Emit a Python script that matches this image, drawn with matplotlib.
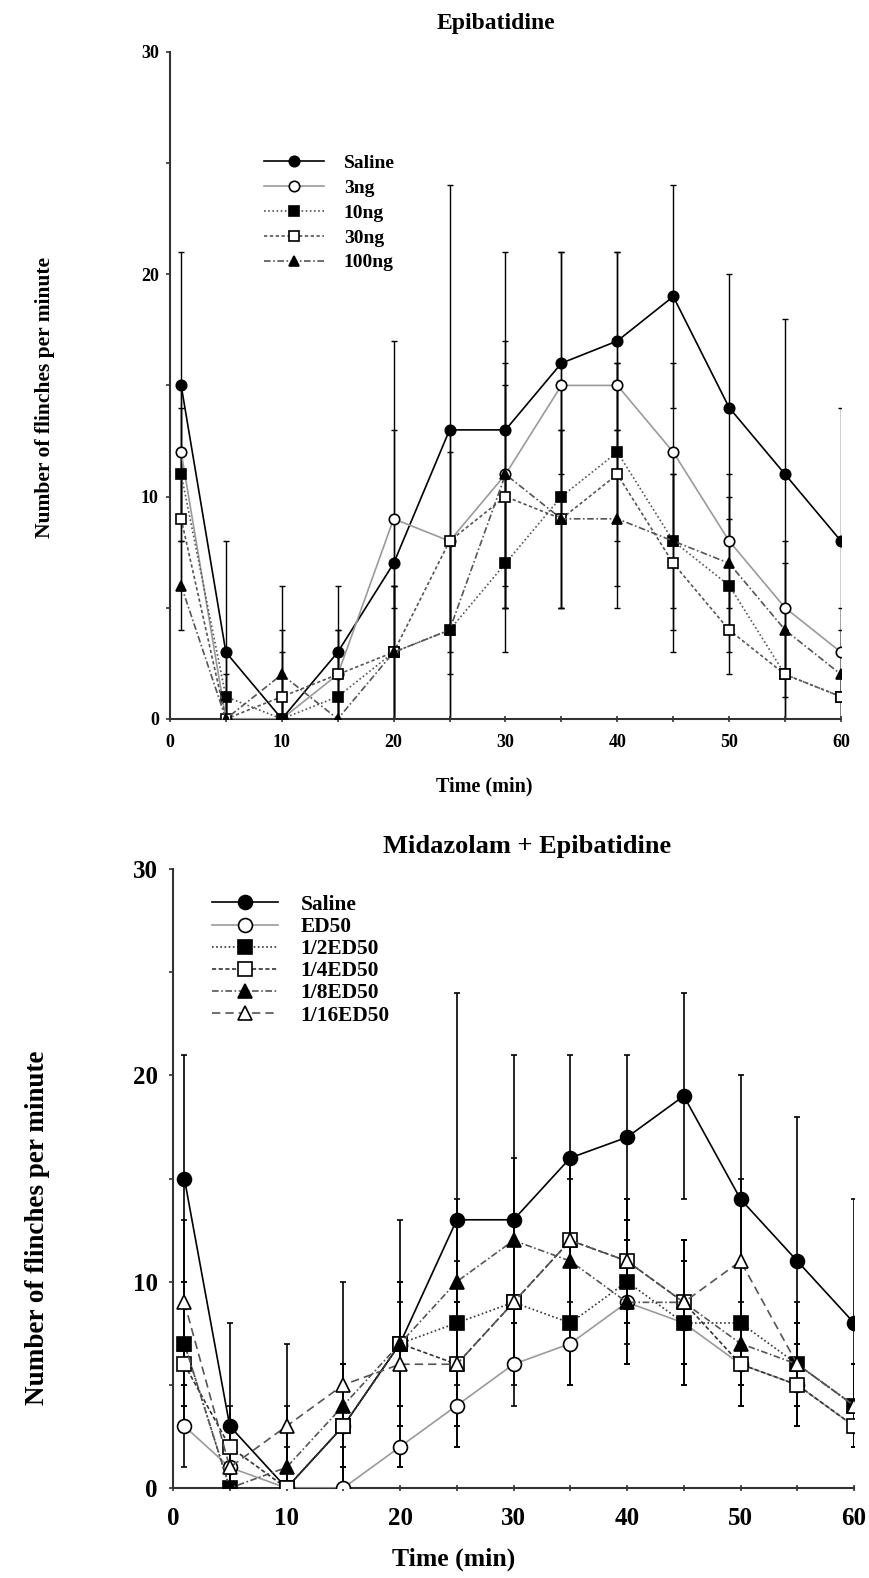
import matplotlib
matplotlib.use('Agg')
import matplotlib.pyplot as plt
from matplotlib.ticker import MultipleLocator

plt.rcParams['font.family'] = ['Liberation Serif', 'DejaVu Serif']
plt.rcParams['font.weight'] = 'bold'

# Time points (min)
times = [1, 5, 10, 15, 20, 25, 30, 35, 40, 45, 50, 55, 60]

# Top panel: Epibatidine
top_labels = ['Saline', '3ng', '10ng', '30ng', '100ng']
saline_top = [15, 3, 0, 3, 7, 13, 13, 16, 17, 19, 14, 11, 8]
saline_top_err = [6, 5, 6, 3, 10, 11, 8, 5, 4, 5, 6, 7, 6]
ng3 = [12, 0, 0, 2, 9, 8, 11, 15, 15, 12, 8, 5, 3]
ng3_err = [3, 2, 2, 2, 4, 5, 6, 6, 6, 4, 3, 3, 2]
ng10 = [11, 1, 0, 1, 3, 4, 7, 10, 12, 8, 6, 2, 1]
ng10_err = [3, 2, 1, 2, 3, 4, 4, 5, 4, 4, 3, 2, 1]
ng30 = [9, 0, 1, 2, 3, 8, 10, 9, 11, 7, 4, 2, 1]
ng30_err = [3, 1, 2, 2, 3, 4, 5, 4, 5, 4, 2, 2, 1]
ng100 = [6, 0, 2, 0, 3, 4, 11, 9, 9, 8, 7, 4, 2]
ng100_err = [2, 1, 2, 1, 3, 4, 5, 4, 4, 3, 3, 3, 2]

# Bottom panel: Midazolam + Epibatidine
bot_labels = ['Saline', 'ED50', '1/2ED50', '1/4ED50', '1/8ED50', '1/16ED50']
saline_bot = [15, 3, 0, 3, 7, 13, 13, 16, 17, 19, 14, 11, 8]
saline_bot_err = [6, 5, 4, 3, 6, 11, 8, 5, 4, 5, 6, 7, 6]
ed50 = [3, 1, 0, 0, 2, 4, 6, 7, 9, 8, 6, 5, 3]
ed50_err = [2, 1, 1, 1, 1, 2, 2, 2, 3, 3, 2, 2, 1]
half = [7, 0, 0, 3, 7, 8, 9, 8, 10, 8, 8, 6, 4]
half_err = [3, 1, 1, 2, 3, 3, 3, 3, 3, 3, 3, 2, 2]
quarter = [6, 2, 0, 3, 7, 6, 9, 12, 11, 9, 6, 5, 3]
quarter_err = [3, 2, 1, 2, 3, 3, 3, 4, 3, 3, 2, 2, 1]
eighth = [7, 0, 1, 4, 7, 10, 12, 11, 9, 9, 7, 6, 4]
eighth_err = [3, 1, 1, 2, 3, 4, 4, 4, 3, 3, 2, 2, 2]
sixteenth = [9, 1, 3, 5, 6, 6, 9, 12, 11, 9, 11, 6, 4]
sixteenth_err = [4, 1, 4, 5, 3, 3, 3, 4, 3, 3, 4, 3, 2]

# styles: (marker, filled, linestyle, color)
top_styles = [('o', True, '-', 'black'),
              ('o', False, '-', '#9a9a9a'),
              ('s', True, (0, (1, 1.5)), '#555555'),
              ('s', False, (0, (2, 1.5)), '#555555'),
              ('^', True, (0, (4, 1.5, 1, 1.5)), '#555555')]
bot_styles = [('o', True, '-', 'black'),
              ('o', False, '-', '#9a9a9a'),
              ('s', True, (0, (1, 1.5)), '#333333'),
              ('s', False, (0, (2.5, 1.5)), '#333333'),
              ('^', True, (0, (4, 1.5, 1, 1.5)), '#555555'),
              ('^', False, (0, (5, 3)), '#555555')]

fig = plt.figure(figsize=(8.69, 15.78), dpi=100)
ax1 = fig.add_axes([0.1956, 0.5444, 0.7722, 0.4227])
ax2 = fig.add_axes([0.1991, 0.0570, 0.7837, 0.3923])


def draw_panel(ax, data, errs, labels, styles, msize, tick_fs, lw_err):
    for vals, err in zip(data, errs):
        ax.errorbar(times, vals, yerr=err, fmt='none', ecolor='black',
                    elinewidth=lw_err, capsize=2, capthick=lw_err, zorder=1)
    for vals, lab, (mk, filled, ls, col) in zip(data, labels, styles):
        ax.plot(times, vals, linestyle=ls, color=col, lw=1.2, marker=mk,
                markersize=msize, markerfacecolor='black' if filled else 'white',
                markeredgecolor='black', markeredgewidth=1.2, label=lab, zorder=3)
    ax.set_xlim(0, 60)
    ax.set_ylim(0, 30)
    for s in ['top', 'right']:
        ax.spines[s].set_visible(False)
    for s in ['left', 'bottom']:
        ax.spines[s].set_color('#333333')
        ax.spines[s].set_linewidth(1.5)
    ax.xaxis.set_major_locator(MultipleLocator(10))
    ax.xaxis.set_minor_locator(MultipleLocator(5))
    ax.yaxis.set_major_locator(MultipleLocator(10))
    ax.yaxis.set_minor_locator(MultipleLocator(5))
    ax.tick_params(axis='x', which='both', direction='inout', length=4,
                   width=1.2, color='#333333', labelsize=tick_fs, pad=9)
    ax.tick_params(axis='y', which='both', direction='out', length=3,
                   width=1.2, color='#333333', labelsize=tick_fs, pad=5)
    for t in ax.get_xticklabels() + ax.get_yticklabels():
        t.set_fontweight('bold')


draw_panel(ax1, [saline_top, ng3, ng10, ng30, ng100],
           [saline_top_err, ng3_err, ng10_err, ng30_err, ng100_err],
           top_labels, top_styles, 7.5, 13, 1.0)
draw_panel(ax2, [saline_bot, ed50, half, quarter, eighth, sixteenth],
           [saline_bot_err, ed50_err, half_err, quarter_err, eighth_err, sixteenth_err],
           bot_labels, bot_styles, 10, 18, 1.2)
ax2.tick_params(axis='x', pad=12)
ax2.tick_params(axis='y', pad=8)

ax1.legend(loc='upper left', bbox_to_anchor=(0.304, 0.902), bbox_transform=fig.transFigure,
           frameon=False, fontsize=14, handlelength=3.1, handletextpad=1.0,
           labelspacing=0.37, borderpad=0, borderaxespad=0)
ax2.legend(loc='upper left', bbox_to_anchor=(0.244, 0.4329), bbox_transform=fig.transFigure,
           frameon=False, fontsize=15.4, handlelength=3.1, handletextpad=1.03,
           labelspacing=0.1, borderpad=0, borderaxespad=0)

# titles and axis labels
fig.text(0.571, 0.985, 'Epibatidine', ha='center', va='center', fontsize=17, fontweight='bold')
fig.text(0.557, 0.5019, 'Time (min)', ha='center', va='center', fontsize=14.5, fontweight='bold')
fig.text(0.052, 0.748, 'Number of flinches per minute', ha='center', va='center',
         rotation=90, fontsize=15.5, fontweight='bold')

fig.text(0.606, 0.4635, 'Midazolam + Epibatidine', ha='center', va='center', fontsize=19, fontweight='bold')
fig.text(0.522, 0.012, 'Time (min)', ha='center', va='center', fontsize=18.5, fontweight='bold')
fig.text(0.0437, 0.222, 'Number of flinches per minute', ha='center', va='center',
         rotation=90, fontsize=19.5, fontweight='bold')

fig.savefig('out.png', dpi=100)
